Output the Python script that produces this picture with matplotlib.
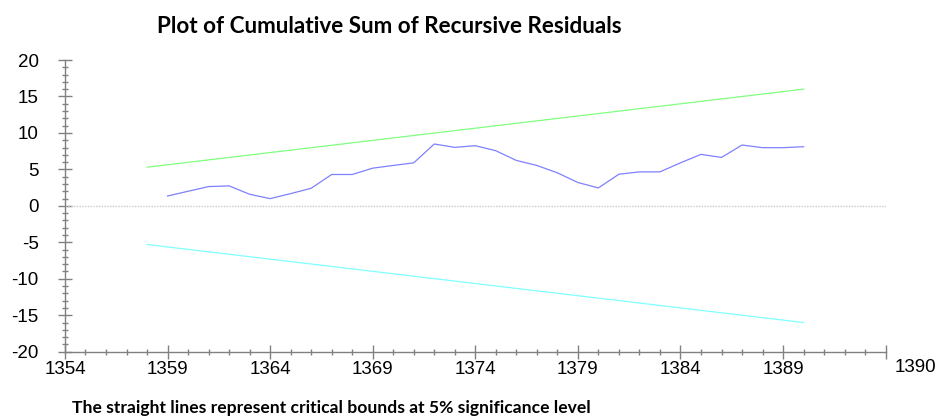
import matplotlib
matplotlib.use("Agg")
import matplotlib.pyplot as plt
import numpy as np
from matplotlib.ticker import MultipleLocator, FixedLocator

plt.rcParams['axes.unicode_minus'] = False
plt.rcParams['font.family'] = ['Liberation Sans', 'DejaVu Sans']

# data
years = list(range(1359, 1391))
cusum = [1.35, 2.0, 2.64, 2.74, 1.59, 0.99, 1.68, 2.41, 4.3, 4.3,
         5.17, 5.54, 5.9, 8.48, 8.02, 8.25, 7.56, 6.23, 5.54, 4.53,
         3.2, 2.46, 4.34, 4.66, 4.66, 5.9, 7.06, 6.64, 8.34, 7.98,
         7.98, 8.11]
bound_years = [1358, 1390]
upper = [5.3, 16.0]
lower = [-5.3, -16.0]
x_ticks = [1354, 1359, 1364, 1369, 1374, 1379, 1384, 1389, 1394]
x_labels = ['1354', '1359', '1364', '1369', '1374', '1379', '1384', '1389', '']
y_ticks = [-20, -15, -10, -5, 0, 5, 10, 15, 20]

fig = plt.figure(figsize=(9.36, 4.19), dpi=100)
ax = fig.add_axes([0.0694, 0.1606, 0.8768, 0.6962])

ax.plot(years, cusum, color='#8080ff', lw=0.9)
ax.plot(bound_years, upper, color='#80ff80', lw=0.9)
ax.plot(bound_years, lower, color='#80ffff', lw=0.9)
ax.plot([1354, 1394], [0, 0], color='#c8c8c8', lw=1.0, ls=(0, (1, 1)))

ax.set_xlim(1354, 1394)
ax.set_ylim(-20, 20)

for s in ['top', 'right']:
    ax.spines[s].set_visible(False)
for s in ['left', 'bottom']:
    ax.spines[s].set_color('#808080')
    ax.spines[s].set_linewidth(1.0)

ax.xaxis.set_major_locator(FixedLocator(x_ticks))
ax.set_xticklabels(x_labels)
ax.xaxis.set_minor_locator(MultipleLocator(1))
ax.yaxis.set_major_locator(FixedLocator(y_ticks))
ax.set_yticklabels([str(v) for v in y_ticks])
ax.yaxis.set_minor_locator(MultipleLocator(1))

ax.tick_params(which='major', direction='inout', length=10, width=1.0,
               color='#808080', labelsize=13.5, labelcolor='black')
ax.tick_params(which='minor', direction='inout', length=5, width=1.0,
               color='#808080')
ax.tick_params(axis='y', which='major', pad=14)
ax.tick_params(axis='x', which='major', pad=2)

ax.text(1.011, -0.055, '1390', transform=ax.transAxes, ha='left', va='center',
        fontsize=13.5)

fig.text(0.4156, 0.937, 'Plot of Cumulative Sum of Recursive Residuals',
         ha='center', va='center', fontsize=16.2, fontweight='bold', family='Lato')
fig.text(0.0769, 0.0263, 'The straight lines represent critical bounds at 5% significance level',
         ha='left', va='center', fontsize=12.6, fontweight='bold', family='Lato')

fig.savefig('out.png', dpi=100)
